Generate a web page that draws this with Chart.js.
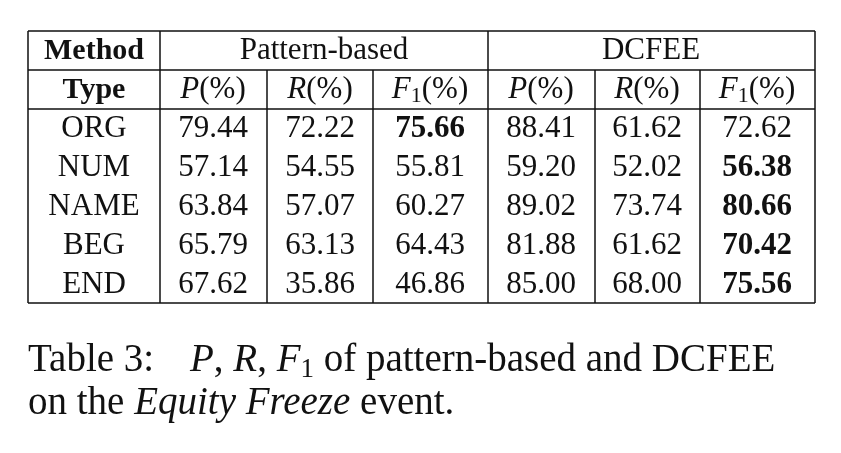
<!DOCTYPE html>
<html lang="en">
<head>
<meta charset="UTF-8">
<title>Table 3</title>
<script src="https://cdn.jsdelivr.net/npm/chart.js"></script>
<style>
  html, body { margin: 0; padding: 0; background: #fff; }
  canvas { display: block; }
</style>
</head>
<body>
<canvas id="tbl" width="841" height="453"></canvas>
<script>
// table data
const rowTypes = ["ORG", "NUM", "NAME", "BEG", "END"];
const patternP = [79.44, 57.14, 63.84, 65.79, 67.62];
const patternR = [72.22, 54.55, 57.07, 63.13, 35.86];
const patternF = [75.66, 55.81, 60.27, 64.43, 46.86];
const dcfeeP = [88.41, 59.20, 89.02, 81.88, 85.00];
const dcfeeR = [61.62, 52.02, 73.74, 61.62, 68.00];
const dcfeeF = [72.62, 56.38, 80.66, 70.42, 75.56];
const groups = ["Pattern-based", "DCFEE"];

const SERIF = '"Liberation Serif", "DejaVu Serif", serif';

// draw a list of [text, style, size, dy] pieces centred on cx
function runs(ctx, parts, cx, y, align) {
  let w = 0;
  parts.forEach(p => { ctx.font = p[1] + ' ' + p[2] + 'px ' + SERIF; w += ctx.measureText(p[0]).width; });
  let x = align === 'left' ? cx : cx - w / 2;
  parts.forEach(p => {
    ctx.font = p[1] + ' ' + p[2] + 'px ' + SERIF;
    ctx.textAlign = 'left';
    ctx.fillText(p[0], x, y + (p[3] || 0));
    x += ctx.measureText(p[0]).width;
  });
}

const tablePlugin = {
  id: 'tablePlugin',
  afterDraw(chart) {
    const ctx = chart.ctx;
    ctx.save();
    ctx.fillStyle = '#fff';
    ctx.fillRect(0, 0, chart.width, chart.height);
    ctx.strokeStyle = '#111';
    ctx.fillStyle = '#111';
    ctx.lineWidth = 1.5;

    const L = 28, R = 815, T = 31, B = 303;
    const hLines = [T, 70, 109, B];
    const rowY = [51, 90, 129, 168, 207, 246, 285];
    const colC = [94, 213, 320, 430, 541, 647, 757];

    ctx.beginPath();
    hLines.forEach(y => { ctx.moveTo(L, y); ctx.lineTo(R, y); });
    [L, 160, 488, R].forEach(x => { ctx.moveTo(x, T); ctx.lineTo(x, B); });
    [267, 373, 595, 700].forEach(x => { ctx.moveTo(x, 70); ctx.lineTo(x, B); });
    ctx.stroke();

    ctx.textBaseline = 'middle';
    const fs = 31;
    runs(ctx, [["Method", 'bold', 30]], colC[0], rowY[0]);
    runs(ctx, [[groups[0], 'normal', fs]], 324, rowY[0]);
    runs(ctx, [[groups[1], 'normal', fs]], 651, rowY[0]);
    runs(ctx, [["Type", 'bold', 30]], colC[0], rowY[1]);
    const hdr = [
      [["P", 'italic', fs], ["(%)", 'normal', fs]],
      [["R", 'italic', fs], ["(%)", 'normal', fs]],
      [["F", 'italic', fs], ["1", 'normal', 22, 6], ["(%)", 'normal', fs]]
    ];
    for (let i = 0; i < 6; i++) runs(ctx, hdr[i % 3], colC[i + 1], rowY[1]);

    rowTypes.forEach((t, r) => {
      const y = rowY[r + 2];
      runs(ctx, [[t, 'normal', fs]], colC[0], y);
      const pBold = patternF[r] > dcfeeF[r];
      const vals = [patternP[r], patternR[r], patternF[r], dcfeeP[r], dcfeeR[r], dcfeeF[r]];
      vals.forEach((v, i) => {
        const bold = (i === 2 && pBold) || (i === 5 && !pBold);
        runs(ctx, [[v.toFixed(2), bold ? 'bold' : 'normal', fs]], colC[i + 1], y);
      });
    });

    ctx.textBaseline = 'alphabetic';
    const cs = 39;
    runs(ctx, [["Table 3:", 'normal', cs]], L, 371, 'left');
    runs(ctx, [["P", 'italic', cs], [", ", 'normal', cs], ["R", 'italic', cs], [", ", 'normal', cs],
               ["F", 'italic', cs], ["1", 'normal', 27, 6], [" of pattern-based and DCFEE", 'normal', cs]],
         190, 371, 'left');
    runs(ctx, [["on the ", 'normal', cs], ["Equity Freeze", 'italic', cs], [" event.", 'normal', cs]],
         L, 414, 'left');
    ctx.restore();
  }
};

new Chart(document.getElementById('tbl'), {
  type: 'bar',
  data: { labels: rowTypes, datasets: [] },
  options: {
    responsive: false,
    devicePixelRatio: 1,
    animation: false,
    plugins: { legend: { display: false }, tooltip: { enabled: false } },
    scales: { x: { display: false }, y: { display: false } }
  },
  plugins: [tablePlugin]
});
</script>
</body>
</html>
